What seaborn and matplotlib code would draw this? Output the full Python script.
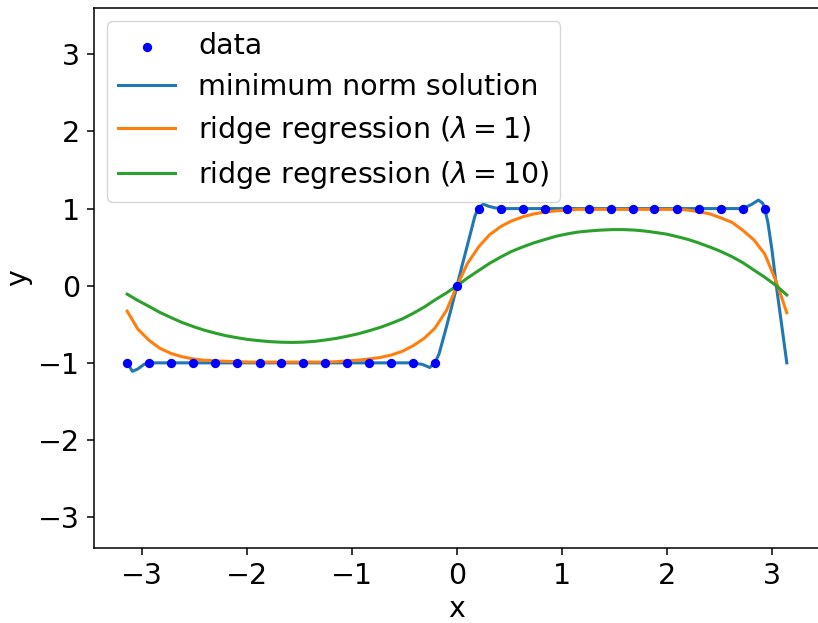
import matplotlib
matplotlib.use("Agg")
import matplotlib.pyplot as plt
import seaborn as sns

# training samples (sign function on [-pi, pi))
data_x = [-3.14, -2.93, -2.72, -2.51, -2.30, -2.09, -1.88, -1.68, -1.47, -1.26,
          -1.05, -0.84, -0.63, -0.42, -0.21, 0.00, 0.21, 0.42, 0.63, 0.84,
          1.05, 1.26, 1.47, 1.68, 1.88, 2.09, 2.30, 2.51, 2.72, 2.93]
data_y = [-1] * 15 + [0] + [1] * 14

# minimum norm solution
minnorm_x = [-3.14, -3.09, -3.04, -2.98, -2.93, -2.80, -2.50, -2.00, -1.50, -1.00,
             -0.50, -0.42, -0.33, -0.26, -0.21, -0.17, -0.10, -0.05, 0.00, 0.05,
             0.10, 0.17, 0.20, 0.25, 0.30, 0.36, 0.42, 1.00, 1.50, 2.00,
             2.50, 2.72, 2.80, 2.87, 2.91, 2.93, 2.96, 3.00, 3.04, 3.07,
             3.10, 3.12, 3.14]
minnorm_y = [-1.00, -1.11, -1.08, -1.02, -1.00, -1.00, -1.00, -1.00, -1.00, -1.00,
             -1.00, -1.00, -1.02, -1.06, -1.00, -0.88, -0.53, -0.27, 0.00, 0.27,
             0.53, 0.90, 1.00, 1.06, 1.03, 1.01, 1.00, 1.00, 1.00, 1.00,
             1.00, 1.00, 1.05, 1.11, 1.07, 1.00, 0.82, 0.45, 0.00, -0.30,
             -0.60, -0.80, -1.00]

# ridge regression curves share one grid
grid_x = [-3.14, -3.04, -2.93, -2.83, -2.72, -2.62, -2.51, -2.41, -2.30, -2.20,
          -2.09, -1.99, -1.88, -1.78, -1.68, -1.57, -1.47, -1.36, -1.26, -1.15,
          -1.05, -0.94, -0.84, -0.73, -0.63, -0.52, -0.42, -0.31, -0.21, -0.10,
          0.00, 0.10, 0.21, 0.31, 0.42, 0.52, 0.63, 0.73, 0.84, 0.94,
          1.05, 1.15, 1.26, 1.36, 1.47, 1.57, 1.68, 1.78, 1.88, 1.99,
          2.09, 2.20, 2.30, 2.41, 2.51, 2.62, 2.72, 2.83, 2.93, 3.04, 3.14]
ridge1_y = [-0.33, -0.56, -0.71, -0.81, -0.88, -0.92, -0.95, -0.965, -0.975, -0.98,
            -0.985, -0.99, -0.99, -0.99, -0.99, -0.99, -0.99, -0.99, -0.99, -0.985,
            -0.975, -0.965, -0.95, -0.93, -0.90, -0.85, -0.78, -0.68, -0.55, -0.32,
            0.00, 0.29, 0.51, 0.66, 0.77, 0.84, 0.895, 0.93, 0.955, 0.97,
            0.98, 0.99, 0.99, 0.99, 0.99, 0.99, 0.99, 0.99, 0.99, 0.99,
            0.99, 0.98, 0.96, 0.93, 0.88, 0.82, 0.72, 0.59, 0.41, 0.05, -0.35]
ridge10_y = [-0.11, -0.19, -0.27, -0.345, -0.415, -0.475, -0.53, -0.575, -0.615, -0.648,
             -0.675, -0.697, -0.713, -0.725, -0.732, -0.735, -0.732, -0.722, -0.705, -0.683,
             -0.656, -0.623, -0.585, -0.54, -0.49, -0.43, -0.36, -0.275, -0.185, -0.093,
             0.00, 0.10, 0.20, 0.29, 0.375, 0.445, 0.505, 0.555, 0.60, 0.64,
             0.672, 0.695, 0.71, 0.72, 0.727, 0.728, 0.722, 0.71, 0.692, 0.67,
             0.638, 0.60, 0.555, 0.50, 0.445, 0.375, 0.30, 0.20, 0.11, 0.00, -0.12]

plt.rcParams['font.family'] = ['DejaVu Sans']
plt.rcParams['font.size'] = 20.5
plt.rcParams['mathtext.fontset'] = 'dejavusans'

fig = plt.figure(figsize=(8.18, 6.23), dpi=100)
ax = fig.add_axes([94 / 818, 75 / 623, 726 / 818, 540 / 623])

sns.scatterplot(x=data_x, y=data_y, color='blue', s=45, linewidth=0,
                label='data', ax=ax, zorder=3)
sns.lineplot(x=minnorm_x, y=minnorm_y, color='#1f77b4', linewidth=2.2,
             label='minimum norm solution', ax=ax)
sns.lineplot(x=grid_x, y=ridge1_y, color='#ff7f0e', linewidth=2.2,
             label=r'ridge regression ($\lambda = 1$)', ax=ax)
sns.lineplot(x=grid_x, y=ridge10_y, color='#2ca02c', linewidth=2.2,
             label=r'ridge regression ($\lambda = 10$)', ax=ax)

ax.set_xlim(-3.456, 3.456)
ax.set_ylim(-3.4, 3.6)
ax.set_xticks([-3, -2, -1, 0, 1, 2, 3])
ax.set_yticks([-3, -2, -1, 0, 1, 2, 3])
ax.set_xlabel('x')
ax.set_ylabel('y')
ax.tick_params(length=5, width=1.1, pad=5)
for sp in ax.spines.values():
    sp.set_linewidth(1.1)

ax.legend(loc='upper left', fontsize=20.5, borderaxespad=0.45,
          labelspacing=0.45)

fig.savefig('out.png', dpi=100)
